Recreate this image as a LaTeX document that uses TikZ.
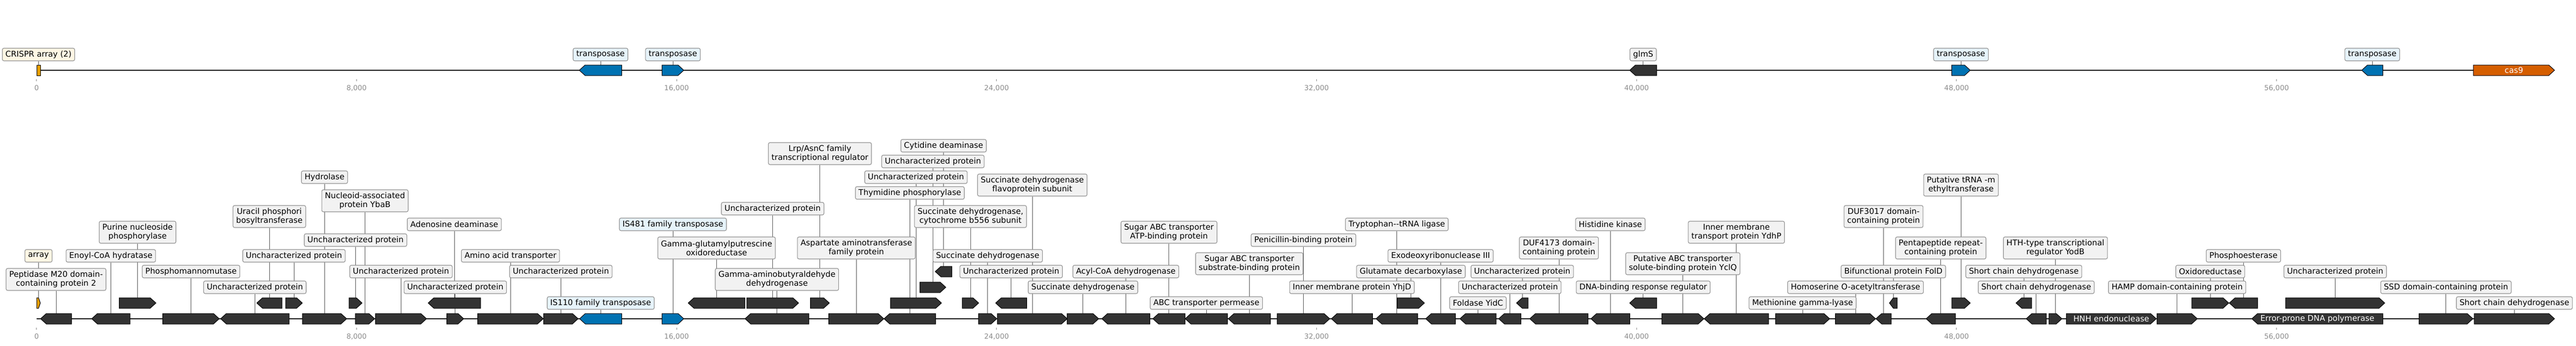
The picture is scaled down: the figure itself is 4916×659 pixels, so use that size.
\documentclass[tikz,border=0pt]{standalone}
\usepackage{fontspec}
\setmainfont{DejaVu Sans}
\usepackage{tikz}
\usetikzlibrary{calc}
\definecolor{geneGray}{HTML}{333333}
\definecolor{tnpBlue}{HTML}{0072B2}
\definecolor{arrOrange}{HTML}{E69F00}
\definecolor{casRed}{HTML}{D55E00}
\definecolor{tagGray}{HTML}{F2F2F2}
\definecolor{tagBlue}{HTML}{E6F3FA}
\definecolor{tagYellow}{HTML}{FEF6E4}
\definecolor{tagEdge}{HTML}{8F8F8F}
\definecolor{linkGray}{HTML}{555555}
\definecolor{tickGray}{HTML}{8A8A8A}
\pgfdeclarelayer{links}
\pgfsetlayers{links,main}
\newcommand{\tagfont}{\fontsize{15.2}{17}\selectfont}
\newcommand{\tickfont}{\fontsize{13.4}{15}\selectfont}
\tikzset{%
  dark/.style={fill=geneGray,draw=black,line width=1pt},
  tnp/.style={fill=tnpBlue,draw=black,line width=1pt},
  crispr/.style={fill=arrOrange,draw=black,line width=1pt},
  casgene/.style={fill=casRed,draw=black,line width=1pt},
  genebox/.style={inner sep=0pt,minimum height=20pt},
  tag/.style={draw=tagEdge,line width=1.1pt,rounded corners=3pt,fill=tagGray,
    font=\tagfont,align=center,inner xsep=6pt,inner ysep=2pt,minimum height=24pt},
  tall/.style={minimum height=42pt},
  tagtnp/.style={fill=tagBlue},
  tagarr/.style={fill=tagYellow},
  link/.style={draw=linkGray,line width=0.9pt},
  dna/.style={line width=2.2pt},
  intext/.style={text=white,font=\tagfont,inner sep=0pt},
  tick/.style={draw=tickGray,line width=0.9pt},
  ticklab/.style={text=tickGray,font=\tickfont,inner sep=0pt},
}
% [style]{name}{x1}{x2}{y}{r/l/n}
\newcommand{\gene}[6][dark]{%
  \pgfmathsetmacro{\headlen}{min(11,(#4-#3)/2)}%
  \if#6r
    \draw[#1] (#3,#5-10) -- (#4-\headlen,#5-10) -- (#4,#5) -- (#4-\headlen,#5+10) -- (#3,#5+10) -- cycle;
  \else\if#6l
    \draw[#1] (#3,#5) -- (#3+\headlen,#5-10) -- (#4,#5-10) -- (#4,#5+10) -- (#3+\headlen,#5+10) -- cycle;
  \else
    \draw[#1] (#3,#5-10) rectangle (#4,#5+10);
  \fi\fi
  \node[genebox,minimum width=#4-#3] (#2) at ({(#3+#4)/2},#5) {};
}
% [style]{gene}{y}{text}
\newcommand{\lab}[4][]{%
  \node[tag,#1] (#2l) at (#2.center |- 0,#3) {#4};
  \begin{pgfonlayer}{links}\draw[link] (#2) -- (#2l);\end{pgfonlayer}
}

\begin{document}
\begin{tikzpicture}[x=1pt,y=-1pt]
  \useasboundingbox (0,0) rectangle (4916,659);

  % top track
  \draw[dna] (70,134) -- (4875,134);
  \gene[crispr]{crA}{70}{77}{134}{n}       \lab[tagarr]{crA}{104}{CRISPR array (2)}
  \gene[tnp]{tnpA}{1105.5}{1186.5}{134}{l} \lab[tagtnp]{tnpA}{104}{transposase}
  \gene[tnp]{tnpB}{1263.3}{1305}{134}{r}   \lab[tagtnp]{tnpB}{104}{transposase}
  \gene{glms}{3110}{3161.5}{134}{l}        \lab{glms}{104}{glmS}
  \gene[tnp]{tnpC}{3724.5}{3760}{134}{r}   \lab[tagtnp]{tnpC}{104}{transposase}
  \gene[tnp]{tnpD}{4507}{4547.3}{134}{l}   \lab[tagtnp]{tnpD}{104}{transposase}
  \gene[casgene]{cas}{4720}{4875}{134}{r}
  \node[intext] (cast) at (cas) {cas9};

  % bottom track
  \draw[dna] (70,608) -- (4875,608);
  \gene[crispr]{arr}{70}{77}{578}{r}       \lab[tagarr]{arr}{488}{array}
  \gene{pep}{77.4}{136.5}{608}{l}          \lab[tall]{pep}{533}{Peptidase M20 domain-\\containing protein 2}
  \gene{enoyl}{175}{248}{608}{l}           \lab{enoyl}{488}{Enoyl-CoA hydratase}
  \gene{purine}{227.5}{297.6}{578}{r}      \lab[tall]{purine}{443}{Purine nucleoside\\phosphorylase}
  \gene{pmm}{310.7}{418.4}{608}{r}         \lab{pmm}{518}{Phosphomannomutase}
  \gene{unkA}{421}{551.8}{608}{l}          \lab{unkA}{548}{Uncharacterized protein}
  \gene{uracil}{490}{538}{578}{l}          \lab[tall]{uracil}{413}{Uracil phosphori\\bosyltransferase}
  \gene{unkB}{545}{577}{578}{r}            \lab{unkB}{488}{Uncharacterized protein}
  \gene{hydro}{577}{661.6}{608}{r}         \lab{hydro}{338}{Hydrolase}
  \gene{unkC}{666}{691}{578}{r}            \lab{unkC}{458}{Uncharacterized protein}
  \gene{ybab}{678}{715}{608}{r}            \lab[tall]{ybab}{383}{Nucleoid-associated\\protein YbaB}
  \gene{unkD}{716.5}{814}{608}{r}          \lab{unkD}{518}{Uncharacterized protein}
  \gene{ada}{817}{917}{578}{l}             \lab{ada}{428}{Adenosine deaminase}
  \gene{unkE}{852.7}{885}{608}{r}          \lab{unkE}{548}{Uncharacterized protein}
  \gene{aat}{911.7}{1036.7}{608}{r}        \lab{aat}{488}{Amino acid transporter}
  \gene{unkF}{1037.3}{1103.3}{608}{r}      \lab{unkF}{518}{Uncharacterized protein}
  \gene[tnp]{is110}{1106}{1186.7}{608}{l}  \lab[tagtnp]{is110}{578}{IS110 family transposase}
  \gene[tnp]{is481}{1263.3}{1305}{608}{r}  \lab[tagtnp]{is481}{428}{IS481 family transposase}
  \gene{ggpo}{1313.3}{1421.7}{578}{l}      \lab[tall]{ggpo}{473}{Gamma-glutamylputrescine\\oxidoreductase}
  \gene{gabd}{1421.7}{1543.7}{608}{l}      \lab[tall]{gabd}{533}{Gamma-aminobutyraldehyde\\dehydrogenase}
  \gene{unkG}{1425}{1524}{578}{r}          \lab{unkG}{398}{Uncharacterized protein}
  \gene{lrp}{1546.7}{1582.7}{578}{r}       \lab[tall]{lrp}{293}{Lrp/AsnC family\\transcriptional regulator}
  \gene{aspat}{1581.7}{1686.7}{608}{r}     \lab[tall]{aspat}{473}{Aspartate aminotransferase\\family protein}
  \gene{thym}{1687}{1785.7}{608}{l}        \lab{thym}{368}{Thymidine phosphorylase}
  \gene{unkH}{1699.3}{1796.7}{578}{r}      \lab{unkH}{338}{Uncharacterized protein}
  \gene{unkI}{1755.7}{1805}{548}{r}        \lab{unkI}{308}{Uncharacterized protein}
  \gene{cyt}{1784.7}{1816.7}{518}{l}       \lab{cyt}{278}{Cytidine deaminase}
  \gene{sdhc}{1836.3}{1867.7}{578}{r}      \lab[tall]{sdhc}{413}{Succinate dehydrogenase,\\cytochrome b556 subunit}
  \gene{sdhA}{1867.3}{1902.3}{608}{r}      \lab{sdhA}{488}{Succinate dehydrogenase}
  \gene{unkJ}{1900}{1959.3}{578}{l}        \lab{unkJ}{518}{Uncharacterized protein}
  \gene{sdhflavo}{1903.3}{2036.7}{608}{r}  \lab[tall]{sdhflavo}{353}{Succinate dehydrogenase\\flavoprotein subunit}
  \gene{sdhB}{2036.7}{2096.7}{608}{r}      \lab{sdhB}{548}{Succinate dehydrogenase}
  \gene{acyl}{2102.7}{2194.3}{608}{l}      \lab{acyl}{518}{Acyl-CoA dehydrogenase}
  \gene{abcatp}{2200}{2261.7}{608}{l}      \lab[tall]{abcatp}{443}{Sugar ABC transporter\\ATP-binding protein}
  \gene{abcperm}{2261.7}{2342.7}{608}{l}   \lab{abcperm}{578}{ABC transporter permease}
  \gene{abcsub}{2344}{2424.3}{608}{l}      \lab[tall]{abcsub}{503}{Sugar ABC transporter\\substrate-binding protein}
  \gene{pbp}{2437.3}{2537.7}{608}{r}       \lab{pbp}{458}{Penicillin-binding protein}
  \gene{yhjd}{2540.7}{2619.3}{608}{l}      \lab{yhjd}{548}{Inner membrane protein YhjD}
  \gene{trp}{2626}{2705.3}{608}{l}         \lab{trp}{428}{Tryptophan-{}-tRNA ligase}
  \gene{gad}{2666.7}{2718.3}{578}{r}       \lab{gad}{518}{Glutamate decarboxylase}
  \gene{exo}{2720.7}{2777.7}{608}{l}       \lab{exo}{488}{Exodeoxyribonuclease III}
  \gene{yidc}{2786}{2855}{608}{l}          \lab{yidc}{578}{Foldase YidC}
  \gene{unkK}{2860}{2902.7}{608}{l}        \lab{unkK}{548}{Uncharacterized protein}
  \gene{unkL}{2894}{2916}{578}{l}          \lab{unkL}{518}{Uncharacterized protein}
  \gene{duf4173}{2919.3}{3030.7}{608}{l}   \lab[tall]{duf4173}{473}{DUF4173 domain-\\containing protein}
  \gene{hisk}{3036}{3110.3}{608}{l}        \lab{hisk}{428}{Histidine kinase}
  \gene{dnab}{3110}{3161.7}{578}{l}        \lab{dnab}{548}{DNA-binding response regulator}
  \gene{yclq}{3171.3}{3251.7}{608}{r}      \lab[tall]{yclq}{503}{Putative ABC transporter\\solute-binding protein YclQ}
  \gene{ydhp}{3252.3}{3375}{608}{l}        \lab[tall]{ydhp}{443}{Inner membrane\\transport protein YdhP}
  \gene{mgl}{3388.3}{3491.7}{608}{r}       \lab{mgl}{578}{Methionine gamma-lyase}
  \gene{homo}{3502.7}{3579.3}{608}{r}      \lab{homo}{548}{Homoserine O-acetyltransferase}
  \gene{duf3017}{3580}{3609}{608}{l}       \lab[tall]{duf3017}{413}{DUF3017 domain-\\containing protein}
  \gene{fold}{3605.7}{3620.7}{578}{l}      \lab{fold}{518}{Bifunctional protein FolD}
  \gene{penta}{3675.7}{3731.7}{608}{l}     \lab[tall]{penta}{473}{Pentapeptide repeat-\\containing protein}
  \gene{trm}{3724.7}{3760}{578}{r}         \lab[tall]{trm}{353}{Putative tRNA -m\\ethyltransferase}
  \gene{scdA}{3847.3}{3877}{578}{l}        \lab{scdA}{518}{Short chain dehydrogenase}
  \gene{scdB}{3866.7}{3905}{608}{l}        \lab{scdB}{548}{Short chain dehydrogenase}
  \gene{yodb}{3910}{3935}{608}{r}          \lab[tall]{yodb}{473}{HTH-type transcriptional\\regulator YodB}
  \gene{hnh}{3943.3}{4115}{608}{r}
  \node[intext] (hnht) at (hnh) {HNH endonuclease};
  \gene{hamp}{4116.3}{4193.3}{608}{r}      \lab{hamp}{548}{HAMP domain-containing protein}
  \gene{oxr}{4182.7}{4253.3}{578}{r}       \lab{oxr}{518}{Oxidoreductase}
  \gene{pest}{4254.3}{4308.3}{578}{l}      \lab{pest}{488}{Phosphoesterase}
  \gene{dnae}{4297.3}{4547.3}{608}{l}
  \node[intext] (dnaet) at (dnae) {Error-prone DNA polymerase};
  \gene{unkM}{4361.7}{4551}{578}{r}        \lab{unkM}{518}{Uncharacterized protein}
  \gene{ssd}{4616.3}{4719.3}{608}{r}       \lab{ssd}{548}{SSD domain-containing protein}
  \gene{scdC}{4721.7}{4875}{608}{r}        \lab{scdC}{578}{Short chain dehydrogenase}

  % scale ticks
  \foreach \k/\txt in {0/0,1/{8,000},2/{16,000},3/{24,000},4/{32,000},5/{40,000},6/{48,000},7/{56,000}}{
    \draw[tick] ({69.8+610.68*\k},151) -- ++(0,4);
    \draw[tick] ({69.8+610.68*\k},625) -- ++(0,4);
    \node[ticklab] (topt\k) at ({69.8+610.68*\k},168) {\txt};
    \node[ticklab] (bott\k) at ({69.8+610.68*\k},642) {\txt};
  }
\end{tikzpicture}
\end{document}
